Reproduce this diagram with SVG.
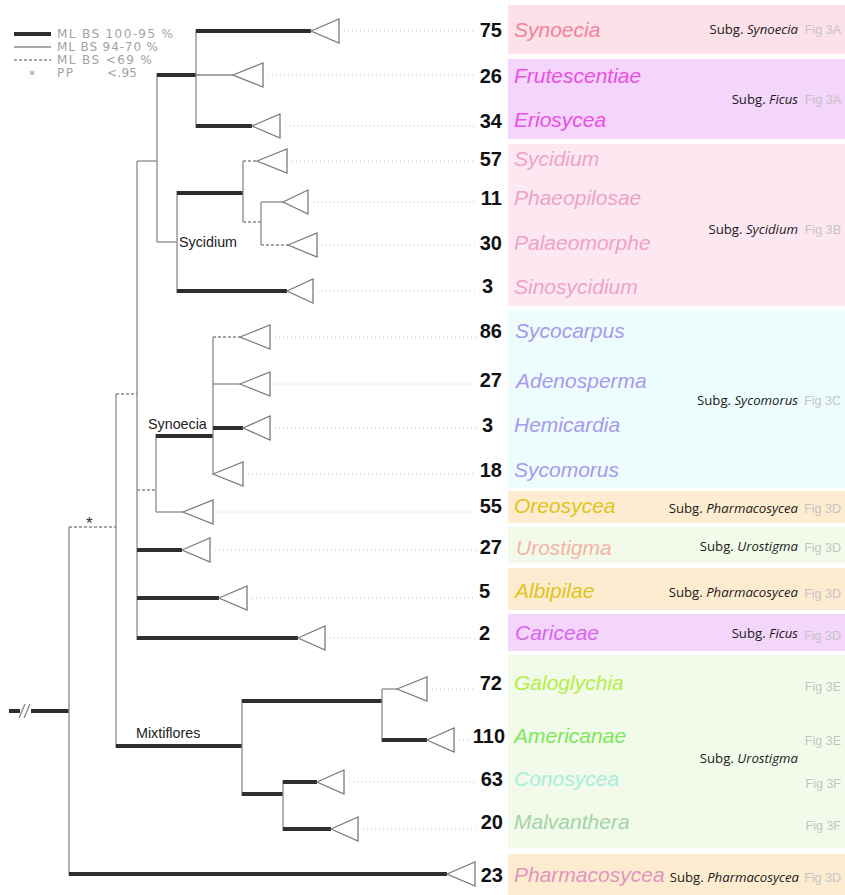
<svg xmlns="http://www.w3.org/2000/svg" width="845" height="895" viewBox="0 0 845 895">
<style>
.thk{stroke:#2b2f2f;stroke-width:4;fill:none;stroke-linecap:butt}
.thn{stroke:#8a8a8a;stroke-width:1.3;fill:none}
.dsh{stroke:#8a8a8a;stroke-width:1.3;fill:none;stroke-dasharray:3,2}
.dot{stroke:#c2c2c2;stroke-width:1;fill:none;stroke-dasharray:1,3}
.tri{fill:#fff;stroke:#7a7a7a;stroke-width:1.3}
.num{font-family:"Liberation Sans",Arial,sans-serif;font-weight:bold;font-size:20px;fill:#111;text-anchor:end}
.tax{font-family:"Liberation Sans",Arial,sans-serif;font-style:italic;font-size:21px}
.sub{font-family:"Open Sans","DejaVu Sans",sans-serif;font-size:13.2px;fill:#1a1a1a;text-anchor:end}
.sub tspan{font-style:italic}
.fig{font-family:"Liberation Sans",Arial,sans-serif;font-size:12.5px;fill:#c4c4c4;text-anchor:end}
.lab{font-family:"Liberation Sans",Arial,sans-serif;font-size:14.3px;fill:#222}
.leg{font-family:"DejaVu Sans",sans-serif;font-size:12px;fill:#a2a2a2}
</style>

<g id="boxes">
<rect x="508" y="5" width="337" height="49" fill="#fde1e8"/>
<rect x="508" y="59" width="337" height="80" fill="#f4d5fb"/>
<rect x="508" y="144" width="337" height="162" fill="#fde8f2"/>
<rect x="508" y="310" width="337" height="178" fill="#edfdfe"/>
<rect x="508" y="491" width="337" height="32" fill="#fdecd0"/>
<rect x="508" y="527" width="337" height="36" fill="#f2fbea"/>
<rect x="508" y="568" width="337" height="42" fill="#fdecd0"/>
<rect x="508" y="614" width="337" height="37" fill="#f4d5fb"/>
<rect x="508" y="655" width="337" height="193" fill="#f2fbea"/>
<rect x="508" y="854" width="337" height="41" fill="#fdecd0"/>
</g>

<g id="legend">
<line x1="14" y1="34" x2="51" y2="34" class="thk"/>
<line x1="14" y1="47" x2="51" y2="47" class="thn"/>
<line x1="14" y1="60" x2="51" y2="60" class="dsh"/>
<text x="57" y="38" class="leg" textLength="116" lengthAdjust="spacing">ML BS 100-95 %</text>
<text x="57" y="51" class="leg" textLength="101" lengthAdjust="spacing">ML BS 94-70 %</text>
<text x="57" y="64" class="leg" textLength="95" lengthAdjust="spacing">ML BS &lt;69 %</text>
<text x="29" y="79" class="leg">*</text>
<text x="57" y="77" class="leg" textLength="16" lengthAdjust="spacing">PP</text>
<text x="107" y="77" class="leg" textLength="30" lengthAdjust="spacing">&lt;.95</text>
</g>

<g id="connectors">
<!-- root -->
<line x1="9" y1="711" x2="20" y2="711" class="thk"/>
<line x1="31" y1="711" x2="69" y2="711" class="thk"/>
<line x1="19" y1="718" x2="25" y2="704" class="thn"/>
<line x1="24" y1="718" x2="30" y2="704" class="thn"/>
<line x1="69" y1="527" x2="69" y2="875" class="thn"/>
<line x1="69" y1="527" x2="116" y2="527" class="dsh"/>
<line x1="69" y1="874" x2="447" y2="874" class="thk"/>
<!-- node 116 -->
<line x1="116" y1="394" x2="116" y2="748" class="thn"/>
<line x1="116" y1="394" x2="137" y2="394" class="dsh"/>
<line x1="116" y1="746" x2="242" y2="746" class="thk"/>
<!-- node 137 -->
<line x1="137" y1="161" x2="137" y2="640" class="thn"/>
<line x1="137" y1="161" x2="157" y2="161" class="thn"/>
<line x1="137" y1="490" x2="156" y2="490" class="dsh"/>
<line x1="137" y1="550" x2="182" y2="550" class="thk"/>
<line x1="137" y1="598" x2="219" y2="598" class="thk"/>
<line x1="137" y1="638" x2="298" y2="638" class="thk"/>
<!-- node 157 -->
<line x1="157" y1="73" x2="157" y2="242" class="thn"/>
<line x1="157" y1="75" x2="196" y2="75" class="thk"/>
<line x1="157" y1="242" x2="177" y2="242" class="thn"/>
<!-- node 196 -->
<line x1="196" y1="29" x2="196" y2="128" class="thn"/>
<line x1="196" y1="31" x2="311" y2="31" class="thk"/>
<line x1="196" y1="75" x2="233" y2="75" class="thn"/>
<line x1="196" y1="126" x2="252" y2="126" class="thk"/>
<!-- Sycidium node 177 -->
<line x1="177" y1="191" x2="177" y2="293" class="thn"/>
<line x1="177" y1="193" x2="243" y2="193" class="thk"/>
<line x1="177" y1="291" x2="287" y2="291" class="thk"/>
<!-- node 243 -->
<line x1="243" y1="161" x2="243" y2="222" class="thn"/>
<line x1="243" y1="161" x2="257" y2="161" class="dsh"/>
<line x1="243" y1="222" x2="261" y2="222" class="dsh"/>
<!-- node 261 -->
<line x1="261" y1="202" x2="261" y2="245" class="thn"/>
<line x1="261" y1="202" x2="283" y2="202" class="thn"/>
<line x1="261" y1="245" x2="288" y2="245" class="dsh"/>
<!-- Synoecia node 156 -->
<line x1="156" y1="434" x2="156" y2="512" class="thn"/>
<line x1="156" y1="436" x2="213" y2="436" class="thk"/>
<line x1="156" y1="512" x2="183" y2="512" class="thn"/>
<!-- node 213 -->
<line x1="213" y1="337" x2="213" y2="474" class="thn"/>
<line x1="213" y1="337" x2="240" y2="337" class="dsh"/>
<line x1="213" y1="384" x2="240" y2="384" class="thn"/>
<line x1="213" y1="428" x2="243" y2="428" class="thk"/>
<!-- Mixtiflores node 242 -->
<line x1="242" y1="699" x2="242" y2="796" class="thn"/>
<line x1="242" y1="701" x2="382" y2="701" class="thk"/>
<line x1="242" y1="794" x2="283" y2="794" class="thk"/>
<!-- node 382 -->
<line x1="382" y1="689" x2="382" y2="742" class="thn"/>
<line x1="382" y1="689" x2="397" y2="689" class="thn"/>
<line x1="382" y1="740" x2="427" y2="740" class="thk"/>
<!-- node 283 -->
<line x1="283" y1="780" x2="283" y2="831" class="thn"/>
<line x1="283" y1="782" x2="317" y2="782" class="thk"/>
<line x1="283" y1="829" x2="331" y2="829" class="thk"/>
<!-- dotted leaders -->
<line x1="344" y1="31" x2="476" y2="31" class="dot"/>
<line x1="268" y1="75" x2="476" y2="75" class="dot"/>
<line x1="285" y1="126" x2="476" y2="126" class="dot"/>
<line x1="292" y1="161" x2="476" y2="161" class="dot"/>
<line x1="313" y1="202" x2="476" y2="202" class="dot"/>
<line x1="322" y1="245" x2="476" y2="245" class="dot"/>
<line x1="318" y1="291" x2="476" y2="291" class="dot"/>
<line x1="275" y1="337" x2="476" y2="337" class="dot"/>
<line x1="275" y1="384" x2="476" y2="384" class="dot"/>
<line x1="275" y1="428" x2="476" y2="428" class="dot"/>
<line x1="248" y1="474" x2="476" y2="474" class="dot"/>
<line x1="218" y1="512" x2="476" y2="512" class="dot"/>
<line x1="215" y1="550" x2="476" y2="550" class="dot"/>
<line x1="252" y1="598" x2="476" y2="598" class="dot"/>
<line x1="330" y1="638" x2="476" y2="638" class="dot"/>
<line x1="432" y1="689" x2="476" y2="689" class="dot"/>
<line x1="459" y1="740" x2="471" y2="740" class="dot"/>
<line x1="349" y1="782" x2="476" y2="782" class="dot"/>
<line x1="363" y1="829" x2="476" y2="829" class="dot"/>
</g>

<g id="clade-labels">
<text x="179" y="247" class="lab">Sycidium</text>
<text x="148" y="429" class="lab">Synoecia</text>
<text x="136" y="738" class="lab">Mixtiflores</text>
<text x="86" y="529" font-family="Liberation Sans,Arial,sans-serif" font-size="17" fill="#333">*</text>
</g>

<g id="n-synoecia"><polygon class="tri" points="311,31 339,19 339,43"/><text class="num" x="502" y="37">75</text><text class="tax" x="514" y="37" fill="#f2819f">Synoecia</text><text class="sub" x="798" y="34">Subg. <tspan>Synoecia</tspan></text><text class="fig" x="841" y="34">Fig 3A</text></g>
<g id="n-frutescentiae"><polygon class="tri" points="233,75 263,63 263,87"/><text class="num" x="502" y="83">26</text><text class="tax" x="514" y="83" fill="#ec4fe4">Frutescentiae</text></g>
<g id="n-eriosycea"><polygon class="tri" points="252,126 280,114 280,138"/><text class="num" x="502" y="128">34</text><text class="tax" x="514" y="127" fill="#ec4fe4">Eriosycea</text></g>
<g id="g-ficus"><text class="sub" x="798" y="104">Subg. <tspan>Ficus</tspan></text><text class="fig" x="841" y="104">Fig 3A</text></g>
<g id="n-sycidium"><polygon class="tri" points="257,161 287,149 287,173"/><text class="num" x="502" y="166">57</text><text class="tax" x="514" y="166" fill="#eea2c8">Sycidium</text></g>
<g id="n-phaeopilosae"><polygon class="tri" points="283,202 308,190 308,214"/><text class="num" x="502" y="205">11</text><text class="tax" x="514" y="205" fill="#eea2c8">Phaeopilosae</text></g>
<g id="n-palaeomorphe"><polygon class="tri" points="288,245 317,233 317,257"/><text class="num" x="502" y="250">30</text><text class="tax" x="514" y="250" fill="#eea2c8">Palaeomorphe</text></g>
<g id="n-sinosycidium"><polygon class="tri" points="287,291 313,279 313,303"/><text class="num" x="493" y="293">3</text><text class="tax" x="514" y="294" fill="#eea2c8">Sinosycidium</text></g>
<g id="g-sycidium"><text class="sub" x="798" y="234">Subg. <tspan>Sycidium</tspan></text><text class="fig" x="841" y="234">Fig 3B</text></g>
<g id="n-sycocarpus"><polygon class="tri" points="240,337 270,325 270,349"/><text class="num" x="502" y="338">86</text><text class="tax" x="515" y="338" fill="#a999ec">Sycocarpus</text></g>
<g id="n-adenosperma"><polygon class="tri" points="240,384 270,372 270,396"/><text class="num" x="502" y="387">27</text><text class="tax" x="516" y="388" fill="#a999ec" font-size="22.5">Adenosperma</text></g>
<g id="n-hemicardia"><polygon class="tri" points="243,428 270,416 270,440"/><text class="num" x="493" y="432">3</text><text class="tax" x="514" y="432" fill="#a999ec">Hemicardia</text></g>
<g id="n-sycomorus"><polygon class="tri" points="213,474 243,462 243,486"/><text class="num" x="502" y="477">18</text><text class="tax" x="514" y="477" fill="#a999ec">Sycomorus</text></g>
<g id="g-sycomorus"><text class="sub" x="798" y="405">Subg. <tspan>Sycomorus</tspan></text><text class="fig" x="841" y="405">Fig 3C</text></g>
<g id="n-oreosycea"><polygon class="tri" points="183,512 213,500 213,524"/><text class="num" x="502" y="513">55</text><text class="tax" x="514" y="513" fill="#e2c31c">Oreosycea</text><text class="sub" x="798" y="513">Subg. <tspan>Pharmacosycea</tspan></text><text class="fig" x="841" y="513">Fig 3D</text></g>
<g id="n-urostigma"><polygon class="tri" points="182,550 210,538 210,562"/><text class="num" x="502" y="554">27</text><text class="tax" x="516" y="555" fill="#f5b3a3">Urostigma</text><text class="sub" x="798" y="551">Subg. <tspan>Urostigma</tspan></text><text class="fig" x="841" y="552">Fig 3D</text></g>
<g id="n-albipilae"><polygon class="tri" points="219,598 247,586 247,610"/><text class="num" x="490" y="598">5</text><text class="tax" x="515" y="598" fill="#e2c31c">Albipilae</text><text class="sub" x="798" y="597">Subg. <tspan>Pharmacosycea</tspan></text><text class="fig" x="841" y="598">Fig 3D</text></g>
<g id="n-cariceae"><polygon class="tri" points="298,638 325,626 325,650"/><text class="num" x="490" y="640">2</text><text class="tax" x="515" y="640" fill="#d966ee">Cariceae</text><text class="sub" x="798" y="638">Subg. <tspan>Ficus</tspan></text><text class="fig" x="841" y="640">Fig 3D</text></g>
<g id="n-galoglychia"><polygon class="tri" points="397,689 427,677 427,701"/><text class="num" x="502" y="690">72</text><text class="tax" x="514" y="690" fill="#b5ee48">Galoglychia</text><text class="fig" x="841" y="691">Fig 3E</text></g>
<g id="n-americanae"><polygon class="tri" points="427,740 454,728 454,752"/><text class="num" x="505" y="743">110</text><text class="tax" x="514" y="743" fill="#7ce858">Americanae</text><text class="fig" x="841" y="745">Fig 3E</text></g>
<g id="n-conosycea"><polygon class="tri" points="317,782 344,770 344,794"/><text class="num" x="503" y="786">63</text><text class="tax" x="514" y="786" fill="#a6eedc">Conosycea</text><text class="fig" x="841" y="788">Fig 3F</text></g>
<g id="n-malvanthera"><polygon class="tri" points="331,829 358,817 358,841"/><text class="num" x="503" y="829">20</text><text class="tax" x="514" y="829" fill="#a3d4a6">Malvanthera</text><text class="fig" x="841" y="830">Fig 3F</text></g>
<g id="g-urostigma"><text class="sub" x="798" y="763">Subg. <tspan>Urostigma</tspan></text></g>
<g id="n-pharmacosycea"><polygon class="tri" points="447,874 475,862 475,886"/><text class="num" x="503" y="882">23</text><text class="tax" x="514" y="882" fill="#e394be">Pharmacosycea</text><text class="sub" x="799" y="882">Subg. <tspan>Pharmacosycea</tspan></text><text class="fig" x="841" y="882">Fig 3D</text></g>
</svg>
